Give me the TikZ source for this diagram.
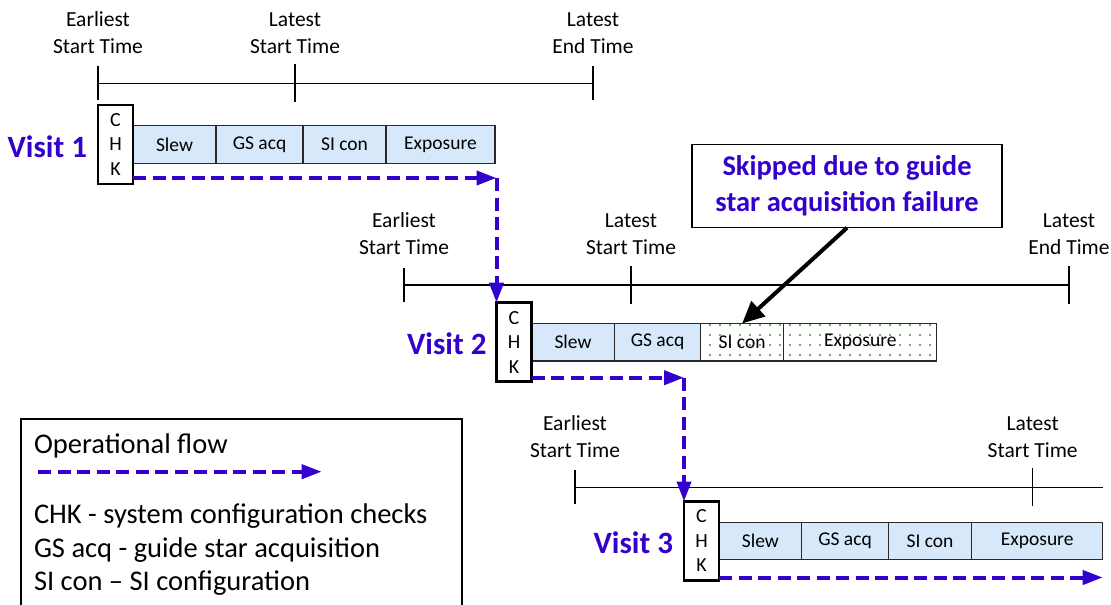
\documentclass[tikz,border=0pt]{standalone}
\usepackage{fontspec}
\setmainfont{Carlito}
\usetikzlibrary{arrows.meta,patterns.meta,calc}
\definecolor{vpurple}{RGB}{51,0,204}
\definecolor{barblue}{RGB}{214,232,250}
\definecolor{barline}{RGB}{40,40,40}
\definecolor{dotgreen}{RGB}{60,150,40}
\pgfdeclarelayer{background}
\pgfsetlayers{background,main}
\begin{document}
\begin{tikzpicture}[x=1pt,y=-1pt, outer sep=0pt,
  bar/.style={draw=barline, line width=1.1pt, fill=barblue, minimum height=37.5pt, inner sep=0pt, anchor=west, font=\fontsize{19.5}{22}\selectfont},
  skipbar/.style={bar, fill=none, preaction={fill=white},
    pattern={Dots[distance=10pt,radius=1.2pt]}, pattern color=dotgreen},
  chkbox/.style={draw=black, line width=2.5pt, fill=white, minimum width=35pt, minimum height=79pt, inner sep=0pt, align=center, font=\fontsize{20}{24.5}\selectfont},
  visit/.style={inner sep=0pt, anchor=east, text=vpurple, font=\fontsize{31}{36}\selectfont\bfseries},
  tline/.style={draw=black, line width=1.5pt},
  tlabel/.style={anchor=south, align=center, inner sep=0pt, font=\fontsize{21.5}{27}\selectfont},
  flow/.style={draw=vpurple, line width=4pt, dash pattern=on 13pt off 6.5pt, -{Triangle[length=20pt,width=14pt]}},
  legtext/.style={anchor=base west, inner sep=0pt, font=\fontsize{28.5}{33.5}\selectfont},
  callout/.style={draw=black, line width=1.3pt, fill=white, minimum width=310pt, minimum height=83.5pt, align=center, text=vpurple, font=\fontsize{28.5}{36}\selectfont\bfseries}
]
\useasboundingbox (0,0) rectangle (1111,605);

% ---------- Visit 1 ----------
\coordinate (t1a) at (98,83.3);
\coordinate (t1b) at (295,83.3);
\coordinate (t1c) at (593,83.3);
\draw[tline] (t1a) -- (t1c);
\draw[tline] ([yshift=17pt]t1a) -- ([yshift=-17pt]t1a);
\draw[tline] ([yshift=19pt]t1b) -- ([yshift=-19pt]t1b);
\draw[tline] ([yshift=17pt]t1c) -- ([yshift=-17pt]t1c);
\node[tlabel] (l1a) at ([yshift=30pt]t1a) {Earliest\\Start Time};
\node[tlabel] (l1b) at ([yshift=30pt]t1b) {Latest\\Start Time};
\node[tlabel] (l1c) at ([yshift=30pt]t1c) {Latest\\End Time};

\node[chkbox] (chk1) at (115.5,144.5) {C\\H\\K};
\begin{pgfonlayer}{background}
\node[bar, minimum width=83pt] (s1) at (chk1.east) {Slew};
\node[bar, minimum width=87pt] (g1) at (s1.east) {GS acq};
\node[bar, minimum width=83pt] (c1) at (g1.east) {SI con};
\node[bar, minimum width=109pt] (e1) at (c1.east) {Exposure};
\end{pgfonlayer}
\node[visit] (v1) at ([xshift=-11pt,yshift=-2pt]chk1.west) {Visit 1};

% ---------- Visit 2 ----------
\coordinate (t2a) at (404,285);
\coordinate (t2b) at (631,285);
\coordinate (t2c) at (1069,285);
\draw[tline] (t2a) -- (t2c);
\draw[tline] ([yshift=17pt]t2a) -- ([yshift=-17pt]t2a);
\draw[tline] ([yshift=19pt]t2b) -- ([yshift=-19pt]t2b);
\draw[tline] ([yshift=19pt]t2c) -- ([yshift=-19pt]t2c);
\node[tlabel] (l2a) at ([yshift=30pt]t2a) {Earliest\\Start Time};
\node[tlabel] (l2b) at ([yshift=30pt]t2b) {Latest\\Start Time};
\node[tlabel] (l2c) at ([yshift=30pt]t2c) {Latest\\End Time};

\node[chkbox] (chk2) at (514,342.2) {C\\H\\K};
\begin{pgfonlayer}{background}
\node[bar, minimum width=83pt] (s2) at (chk2.east) {Slew};
\node[bar, minimum width=86pt] (g2) at (s2.east) {GS acq};
\node[skipbar, minimum width=83.3pt] (c2) at (g2.east) {SI con};
\node[skipbar, minimum width=153pt] (e2) at (c2.east) {Exposure};
\end{pgfonlayer}
\node[visit] (v2) at ([xshift=-10pt,yshift=-2pt]chk2.west) {Visit 2};

% ---------- Visit 3 ----------
\coordinate (t3a) at (575,487.3);
\coordinate (t3b) at (1032.7,487.3);
\coordinate (t3c) at (1103,487.3);
\draw[tline] (t3a) -- (t3c);
\draw[tline] ([yshift=17pt]t3a) -- ([yshift=-17pt]t3a);
\draw[tline] ([yshift=19pt]t3b) -- ([yshift=-19pt]t3b);
\node[tlabel] (l3a) at ([yshift=30pt]t3a) {Earliest\\Start Time};
\node[tlabel] (l3b) at ([yshift=30pt]t3b) {Latest\\Start Time};

\node[chkbox] (chk3) at (701.5,541) {C\\H\\K};
\begin{pgfonlayer}{background}
\node[bar, minimum width=82.7pt] (s3) at (chk3.east) {Slew};
\node[bar, minimum width=86.6pt] (g3) at (s3.east) {GS acq};
\node[bar, minimum width=83.4pt] (c3) at (g3.east) {SI con};
\node[bar, minimum width=131pt] (e3) at (c3.east) {Exposure};
\end{pgfonlayer}
\node[visit] (v3) at ([xshift=-11pt,yshift=-2pt]chk3.west) {Visit 3};

% ---------- Operational flow ----------
\coordinate (f1s) at ([yshift=6pt]chk1.south east);
\coordinate (k1) at (f1s -| chk2.north west);
\draw[flow] (f1s) -- (k1);
\draw[flow] (k1) -- (chk2.north west);

\coordinate (f2s) at ([yshift=4pt]chk2.south east);
\coordinate (k2) at (f2s -| chk3.north west);
\draw[flow] (f2s) -- (k2);
\draw[flow] (k2) -- (chk3.north west);

\coordinate (f3s) at ([yshift=3pt]chk3.south east);
\coordinate (f3e) at (f3s -| e3.east);
\draw[flow] (f3s) -- (f3e);

% ---------- Callout ----------
\node[callout] (note) at (847,186) {Skipped due to guide\\star acquisition failure};
\draw[line width=4pt, -{Triangle[length=22pt,width=20pt]}] (note.south) -- (c2.north);

% ---------- Legend ----------
\draw[line width=1.3pt] (21,606) -- (21,419) -- (462,419) -- (462,606);
\node[legtext] (lg0) at (34,453) {Operational flow};
\coordinate (la) at (38,471.7);
\coordinate (lb) at (321.7,471.7);
\draw[flow] (la) -- (lb);
\node[legtext] (lg1) at (34,523.5) {CHK - system configuration checks};
\node[legtext] (lg2) at (34,557) {GS acq - guide star acquisition};
\node[legtext] (lg3) at (34,590.5) {SI con – SI configuration};
\end{tikzpicture}
\end{document}
